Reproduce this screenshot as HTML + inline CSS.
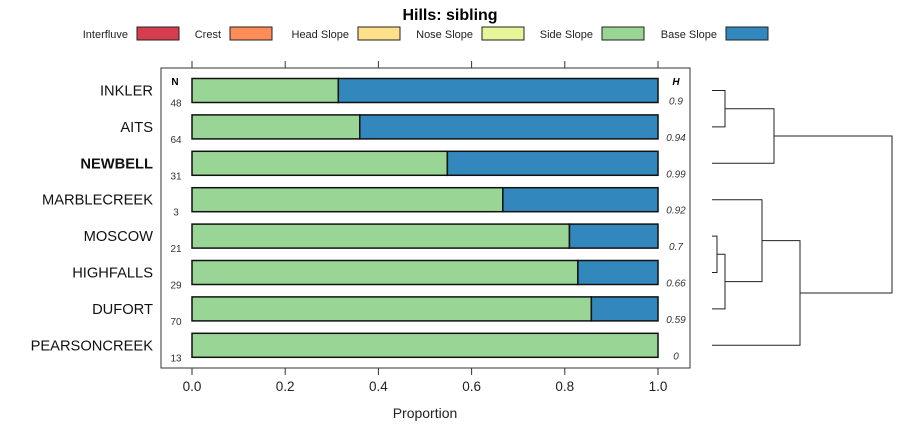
<!DOCTYPE html>
<html><head><meta charset="utf-8">
<style>
html,body{margin:0;padding:0;background:#fff;}
svg{display:block;font-family:"Liberation Sans",sans-serif;}
</style></head>
<body>
<svg id="chart" width="900" height="440" viewBox="0 0 900 440" xmlns="http://www.w3.org/2000/svg">
<text x="450" y="20" text-anchor="middle" font-size="16" font-weight="bold">Hills: sibling</text>
<g id="legend"></g>
<rect x="161" y="68" width="529" height="300" fill="none" stroke="#333" stroke-width="1"/>
<g id="axes"></g>
<g id="bars"></g>
<g id="dendro"></g>
<text x="425" y="418" text-anchor="middle" font-size="14" fill="#222">Proportion</text>
</svg>
<script>
const categories = ["INKLER","AITS","NEWBELL","MARBLECREEK","MOSCOW","HIGHFALLS","DUFORT","PEARSONCREEK"];
const sideSlope = [0.314,0.36,0.548,0.667,0.81,0.828,0.857,1.0];
const baseSlope = [0.686,0.64,0.452,0.333,0.19,0.172,0.143,0.0];
const nValues = ["48","64","31","3","21","29","70","13"];
const hValues = ["0.9","0.94","0.99","0.92","0.7","0.66","0.59","0"];
const xTicks = [0,0.2,0.4,0.6,0.8,1.0];
const xTickLabels = ["0.0","0.2","0.4","0.6","0.8","1.0"];
const legendNames = ["Interfluve","Crest","Head Slope","Nose Slope","Side Slope","Base Slope"];
const legendColors = ["#D53E4F","#FC8D59","#FEE08B","#E6F598","#99D594","#3288BD"];
// dendrogram merges: [left child, right child, height]; negative = leaf index
const merges = [[-4,-5,0.05],[-0,-1,0.13],[0,-6,0.13],[-3,2,0.5],[1,-2,0.62],[3,-7,0.88],[4,5,1.8]];

const NS="http://www.w3.org/2000/svg";
function mk(tag,attrs,parent,txt){const e=document.createElementNS(NS,tag);for(const k in attrs)e.setAttribute(k,attrs[k]);if(txt!==undefined)e.textContent=txt;parent.appendChild(e);return e;}
const x=v=>192+v*466;
const y=i=>90.5+i*36.4;
const bh=24;

const lg=document.getElementById('legend');
const lgBoxX=[137,230,358,482,602,726];
legendNames.forEach((n,i)=>{
  const t=mk('text',{x:lgBoxX[i]-9,y:38,'text-anchor':'end','font-size':11,fill:'#222'},lg,n);
  
  
  const r=mk('rect',{x:lgBoxX[i],y:27,width:42,height:13,fill:legendColors[i],stroke:'#222','stroke-width':1},lg);
  
  
});

const ax=document.getElementById('axes');
xTicks.forEach((t,i)=>{
  mk('line',{x1:x(t),x2:x(t),y1:61,y2:68,stroke:'#333'},ax);
  mk('line',{x1:x(t),x2:x(t),y1:368,y2:375,stroke:'#333'},ax);
  const l=mk('text',{x:x(t),y:391,'text-anchor':'middle','font-size':13.5,fill:'#222'},ax,xTickLabels[i]);
  
  
});

const bg=document.getElementById('bars');
mk('text',{x:175,y:85,'text-anchor':'middle','font-size':10,'font-weight':'bold'},bg,'N');
mk('text',{x:676,y:85,'text-anchor':'middle','font-size':10,'font-weight':'bold','font-style':'italic'},bg,'H');
categories.forEach((c,i)=>{
  const cy=y(i);
  const lab=mk('text',{x:153,y:cy+5,'text-anchor':'end','font-size':14.7,fill:'#111','font-weight':c==='NEWBELL'?'bold':'normal'},bg,c);
  
  
  mk('text',{x:176,y:cy+16,'text-anchor':'middle','font-size':10,fill:'#333'},bg,nValues[i]);
  mk('text',{x:676,y:cy+14,'text-anchor':'middle','font-size':10,'font-style':'italic',fill:'#333'},bg,hValues[i]);
  const s=mk('rect',{x:x(0),y:cy-bh/2,width:x(sideSlope[i])-x(0),height:bh,fill:legendColors[4],stroke:'#111','stroke-width':1.5},bg);
  
  
  if(baseSlope[i]>0){
    const b=mk('rect',{x:x(sideSlope[i]),y:cy-bh/2,width:x(sideSlope[i]+baseSlope[i])-x(sideSlope[i]),height:bh,fill:legendColors[5],stroke:'#111','stroke-width':1.5},bg);
    
    
  }
});

// dendrogram
const dg=document.getElementById('dendro');
const dx=h=>712+h*100;
const nodes=[];
merges.forEach((m,k)=>{
  const a=(m[0]<0||Object.is(m[0],-0))?{x:dx(0),y:y(-m[0])}:nodes[m[0]];
  const b=(m[1]<0||Object.is(m[1],-0))?{x:dx(0),y:y(-m[1])}:nodes[m[1]];
  const hx=dx(m[2]);
  const p=mk('path',{d:`M${a.x},${a.y}H${hx}V${b.y}H${b.x}`,fill:'none',stroke:'#222','stroke-width':1},dg);
  
  
  nodes[k]={x:hx,y:(a.y+b.y)/2};
});
</script>
</body></html>
